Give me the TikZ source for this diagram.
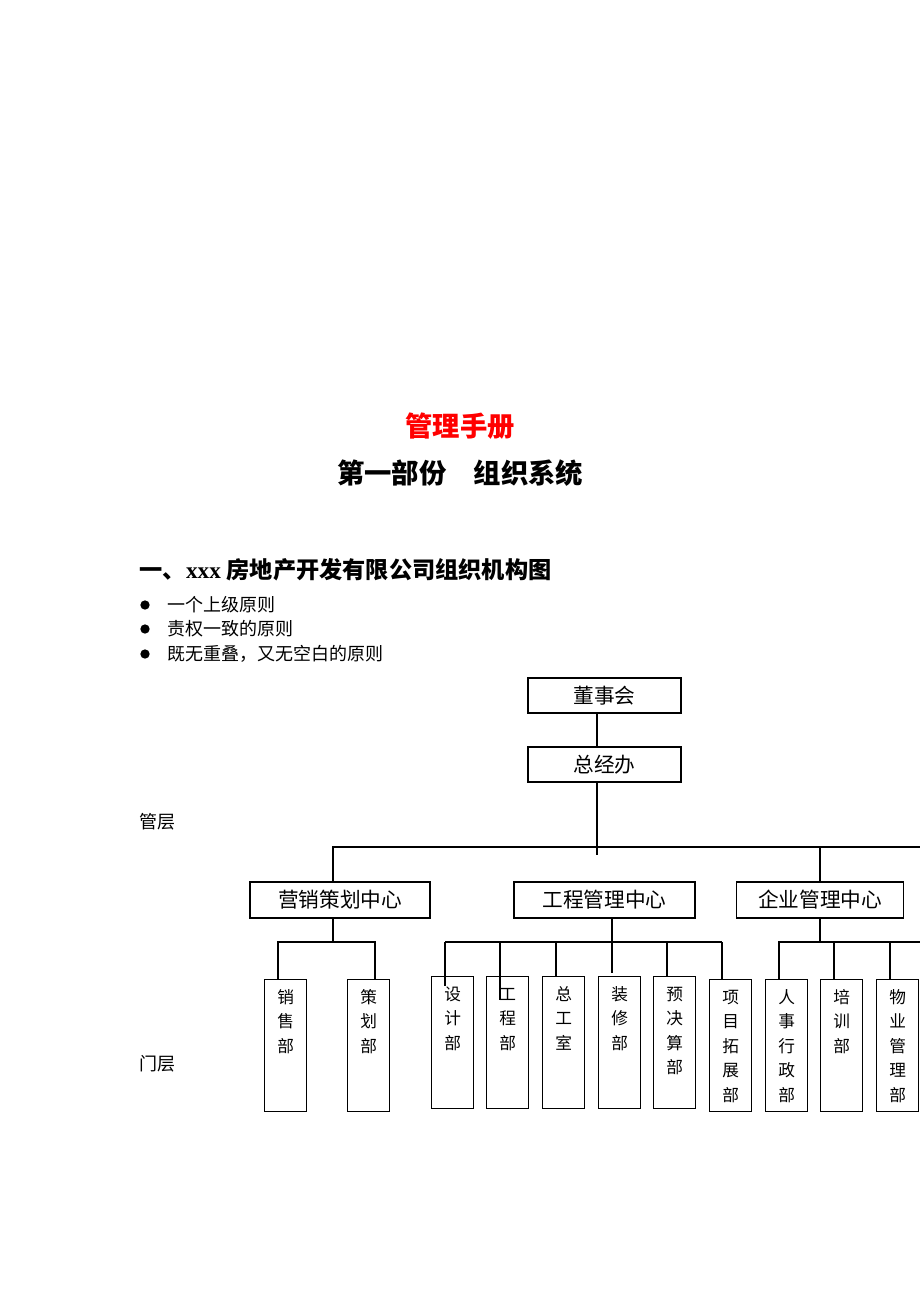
\documentclass[tikz,border=0pt]{standalone}
\usepackage{fontspec}
\setmainfont{Liberation Serif}
\newfontfamily\cjk{Noto Sans CJK SC}
\usepackage{xcolor}
\usetikzlibrary{positioning}
\newcommand{\deptlab}[1]{\parbox[c][99pt][t]{31.5pt}{\centering\rule{0pt}{17.5pt}#1}}

\begin{document}
\begin{tikzpicture}[x=0.75pt, y=-0.75pt, line width=1pt,
  txt/.style={inner sep=0pt, anchor=west, font=\cjk\fontsize{13.5}{16}\selectfont},
  dot/.style={circle, fill, inner sep=0pt, minimum size=7pt},
  topbox/.style={draw, minimum width=114.75pt, minimum height=26.25pt, inner sep=0pt,
                 font=\cjk\fontsize{15.5}{18}\selectfont},
  midbox/.style={draw, minimum height=27pt, inner sep=0pt,
                 font=\cjk\fontsize{15.5}{18}\selectfont},
  dept/.style={draw, anchor=north west, inner sep=0pt,
               font=\cjk\fontsize{12.5}{18.4}\selectfont}]
\useasboundingbox (0,0) rectangle (920,1302);
%
\node[font=\cjk\bfseries\fontsize{20.5}{24}\selectfont, text=red] (title) at (460,426) {管理手册};
\node[font=\cjk\bfseries\fontsize{20.5}{24}\selectfont] (part) at (460,473) {第一部份　组织系统};
\node[txt, font=\bfseries\fontsize{17.4}{20}\selectfont] (head) at (139,570)
     {{\cjk 一、}xxx {\cjk 房地产开发有限公司组织机构图}};
%
\node[dot] (d1) at (145,605) {};
\node[dot] (d2) at (145,629) {};
\node[dot] (d3) at (145,654) {};
\node[txt] (p1) at (167,605) {一个上级原则};
\node[txt] (p2) at (167,629) {责权一致的原则};
\node[txt] (p3) at (167,654) {既无重叠，又无空白的原则};
\node[txt] (lv1) at (139,822) {管层};
\node[txt] (lv2) at (139,1064) {门层};
%
\node[topbox] (dsh) at (604.5,695.5) {董事会};
\node[topbox] (zjb) at (604.5,764.5) {总经办};
\node[midbox, minimum width=135pt]    (yx) at (340,900)   {营销策划中心};
\node[midbox, minimum width=135.75pt] (gc) at (604.5,900) {工程管理中心};
\node[midbox, minimum width=125.25pt] (qy) at (820,900)   {企业管理中心};
%
\node[dept] (xs)   at (264,979) {\deptlab{销\\售\\部}};
\node[dept] (ch)   at (347,979) {\deptlab{策\\划\\部}};
\node[dept] (sj)   at (431,976) {\deptlab{设\\计\\部}};
\node[dept] (gcb)  at (486,976) {\deptlab{工\\程\\部}};
\node[dept] (zgs)  at (542,976) {\deptlab{总\\工\\室}};
\node[dept] (zx)   at (598,976) {\deptlab{装\\修\\部}};
\node[dept] (yjs)  at (653,976) {\deptlab{预\\决\\算\\部}};
\node[dept] (xmtz) at (709,979) {\deptlab{项\\目\\拓\\展\\部}};
\node[dept] (rs)   at (765,979) {\deptlab{人\\事\\行\\政\\部}};
\node[dept] (px)   at (820,979) {\deptlab{培\\训\\部}};
\node[dept] (wy)   at (876,979) {\deptlab{物\\业\\管\\理\\部}};
%
\coordinate (b0) at (597,847);
\coordinate (b0l) at (333,847);
\coordinate (b0r) at (920,847);
\coordinate (b0e) at (597,855);
\draw (dsh.south -| b0) -- (zjb.north -| b0);
\draw (zjb.south -| b0) -- (b0e);
\draw (yx.north -| b0l) |- (b0r);
\draw (qy.north) -- (qy.north |- b0);
%
\coordinate (b1) at (333,942);
\coordinate (b1l) at (278,942);
\coordinate (b1r) at (375,942);
\draw (yx.south -| b1) -- (b1);
\draw (xs.north -| b1l) |- (b1r) -- (ch.north -| b1r);
%
\coordinate (g1) at (445,942);
\coordinate (g2) at (500,942);
\coordinate (g3) at (556,942);
\coordinate (g4) at (612,942);
\coordinate (g5) at (667,942);
\coordinate (g6) at (722,942);
\draw (g1) -- (g6);
\draw (g1) -- ++(0,44);
\draw (g2) -- ++(0,58);
\draw (g3) -- (zgs.north -| g3);
\draw (gc.south -| g4) -- ++(0,54);
\draw (g5) -- (yjs.north -| g5);
\draw (g6) -- (xmtz.north -| g6);
%
\coordinate (b3) at (820,942);
\coordinate (b3r) at (920,942);
\coordinate (r2) at (834,942);
\coordinate (r3) at (890,942);
\draw (qy.south) -- (qy.south |- b3);
\draw (rs.north -| 779,0) |- (b3r);
\draw (r2) -- (px.north -| r2);
\draw (r3) -- (wy.north -| r3);
\end{tikzpicture}
\end{document}
